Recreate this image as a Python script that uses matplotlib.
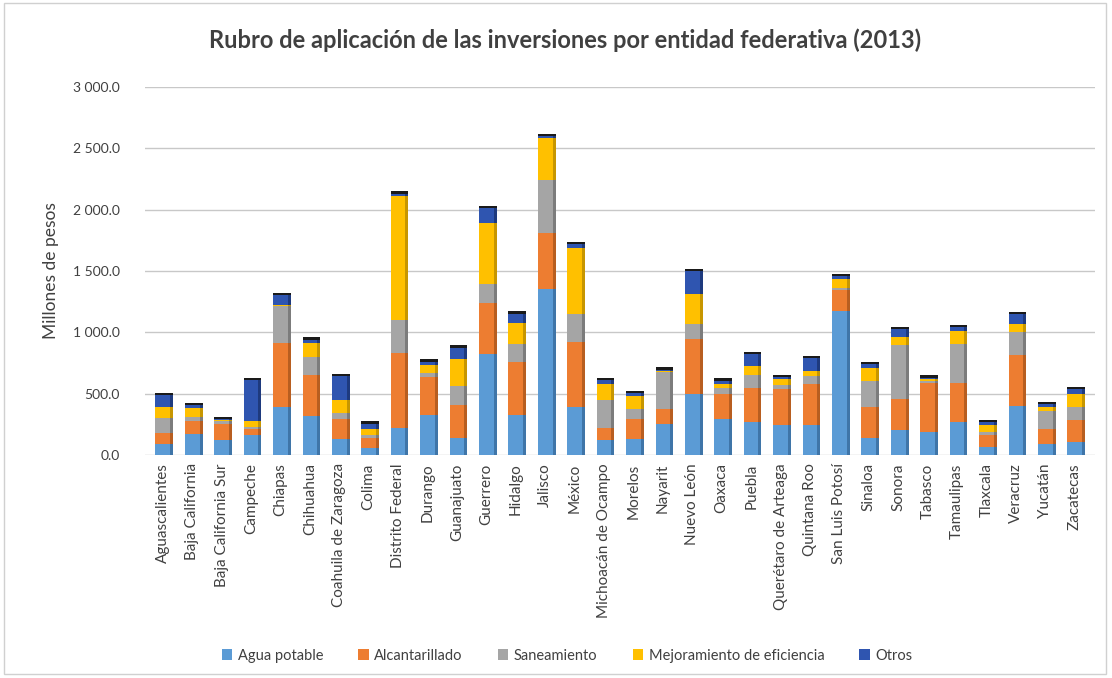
import matplotlib
matplotlib.use("Agg")
import matplotlib.pyplot as plt
import numpy as np
from matplotlib.patches import Rectangle
from matplotlib.ticker import FuncFormatter

estados = ["Aguascalientes", "Baja California", "Baja California Sur", "Campeche", "Chiapas",
           "Chihuahua", "Coahuila de Zaragoza", "Colima", "Distrito Federal", "Durango",
           "Guanajuato", "Guerrero", "Hidalgo", "Jalisco", "México", "Michoacán de Ocampo",
           "Morelos", "Nayarit", "Nuevo León", "Oaxaca", "Puebla", "Querétaro de Arteaga",
           "Quintana Roo", "San Luis Potosí", "Sinaloa", "Sonora", "Tabasco", "Tamaulipas",
           "Tlaxcala", "Veracruz", "Yucatán", "Zacatecas"]

agua_potable = [90, 170, 120, 160, 390, 320, 130, 55, 220, 325, 135, 824, 324, 1350, 392, 122,
                130, 255, 494, 294, 267, 240, 240, 1175, 134, 200, 190, 267, 67, 400, 93, 107]
alcantarillado = [90, 110, 130, 55, 520, 330, 160, 80, 610, 310, 270, 418, 432, 459, 527, 95,
                  160, 120, 454, 200, 280, 295, 334, 170, 254, 254, 400, 320, 93, 414, 120, 174]
saneamiento = [120, 30, 25, 10, 300, 150, 50, 30, 270, 30, 160, 148, 148, 430, 230, 230,
               85, 300, 120, 53, 107, 35, 67, 15, 214, 440, 15, 320, 27, 187, 147, 107]
mejoramiento = [90, 70, 10, 55, 10, 110, 110, 50, 1010, 65, 215, 500, 175, 341, 540, 135,
                105, 10, 240, 27, 67, 45, 40, 70, 107, 67, 10, 107, 53, 67, 27, 107]
otros = [100, 25, 10, 330, 85, 30, 190, 40, 20, 30, 95, 122, 73, 15, 27, 27,
         25, 10, 187, 32, 99, 20, 107, 30, 32, 67, 15, 27, 27, 80, 27, 40]

series_names = ["Agua potable", "Alcantarillado", "Saneamiento", "Mejoramiento de eficiencia", "Otros"]
series_vals = [agua_potable, alcantarillado, saneamiento, mejoramiento, otros]
colors = ["#5B9BD5", "#ED7D31", "#A5A5A5", "#FFC000", "#2F55B0"]
sides = ["#3F75A8", "#B85E20", "#7C7C7C", "#C79600", "#1E3A7E"]

plt.rcParams['font.family'] = ['Lato', 'DejaVu Sans']

fig = plt.figure(figsize=(11.12, 6.78), dpi=100)
ax = fig.add_axes([0.130, 0.329, 0.855, 0.543])

x = np.arange(len(estados))
w = 0.5
sw = 0.10
bottom = np.zeros(len(estados))
for name, vals, c, sc in zip(series_names, series_vals, colors, sides):
    v = np.array(vals, dtype=float)
    ax.bar(x, v, w, bottom=bottom, color=c, label=name, zorder=3, linewidth=0)
    ax.bar(x + w / 2 + sw / 2, v, sw, bottom=bottom, color=sc, zorder=3, linewidth=0)
    bottom += v
ax.bar(x + sw / 2, 18, w + sw, bottom=bottom, color="#1A1A1A", zorder=4, linewidth=0)

ax.set_ylim(0, 3000)
ax.set_xlim(-0.62, len(estados) - 0.3)
ax.set_yticks(np.arange(0, 3001, 500))
ax.yaxis.set_major_formatter(FuncFormatter(lambda v, p: f"{v:,.1f}".replace(",", " ")))
ax.grid(axis='y', color="#C8C8C8", linewidth=1, zorder=0)
for s in ax.spines.values():
    s.set_visible(False)
ax.tick_params(axis='both', length=0, colors="#404040")
ax.tick_params(axis='y', labelsize=10, pad=18)
ax.tick_params(axis='x', pad=6)
ax.set_xticks(x)
ax.set_xticklabels(estados, rotation=90, fontsize=11, color="#404040")
ax.set_ylabel("Millones de pesos", fontsize=12.5, color="#404040", labelpad=10)

fig.text(0.508, 0.941, "Rubro de aplicación de las inversiones por entidad federativa (2013)",
         ha='center', va='center', fontsize=17, fontweight='bold', color="#404040")

handles, labels = ax.get_legend_handles_labels()
leg = fig.legend(handles, labels, loc='center', bbox_to_anchor=(0.51, 0.033), ncol=5,
                 frameon=False, fontsize=10.5, handlelength=0.7, handleheight=0.7,
                 columnspacing=2.4, handletextpad=0.4, labelcolor="#404040")

fig.patches.append(Rectangle((0.004, 0.006), 0.991, 0.989, transform=fig.transFigure,
                             fill=False, edgecolor="#D0D0D0", linewidth=1))

fig.savefig("out.png", dpi=100)
